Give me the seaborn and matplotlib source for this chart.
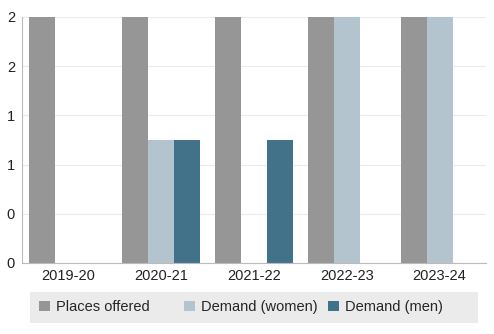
import matplotlib
matplotlib.use("Agg")
import matplotlib.pyplot as plt
import seaborn as sns
import pandas as pd
from matplotlib.patches import Patch, Rectangle
from matplotlib.ticker import FuncFormatter

years = ["2019-20", "2020-21", "2021-22", "2022-23", "2023-24"]
places_offered = [2, 2, 2, 2, 2]
demand_women = [0, 1, 0, 2, 2]
demand_men = [0, 1, 1, 0, 0]
series_names = ["Places offered", "Demand (women)", "Demand (men)"]
colors = ["#969696", "#b4c4ce", "#41728a"]

rows = []
for name, vals in zip(series_names, [places_offered, demand_women, demand_men]):
    for y, v in zip(years, vals):
        rows.append({"year": y, "series": name, "value": v})
df = pd.DataFrame(rows)

sns.set_style("white")
plt.rcParams["font.family"] = ["Liberation Sans", "DejaVu Sans"]

fig = plt.figure(figsize=(4.94, 3.34), dpi=100)
ax = fig.add_axes([22/494, 1-263/334, (486-22)/494, (263-17)/334])

sns.barplot(data=df, x="year", y="value", hue="series", palette=colors,
            hue_order=series_names, order=years, width=0.84, saturation=1,
            ax=ax, legend=False, errorbar=None, linewidth=0, edgecolor="none")

ax.set_xlim(-0.5, 4.5)
ax.set_ylim(0, 2)
ax.set_yticks([0, 0.4, 0.8, 1.2, 1.6, 2.0])
ax.yaxis.set_major_formatter(FuncFormatter(lambda v, p: f"{v:.0f}"))
ax.grid(axis="y", color="#ebebeb", linewidth=0.8)
ax.set_axisbelow(True)
for s in ["top", "right"]:
    ax.spines[s].set_visible(False)
for s in ["left", "bottom"]:
    ax.spines[s].set_color("#bbbbbb")
    ax.spines[s].set_linewidth(0.8)
ax.tick_params(axis="both", length=0, labelsize=10.5, colors="#222222")
ax.tick_params(axis="y", pad=5)
ax.tick_params(axis="x", pad=4)
ax.set_xlabel("")
ax.set_ylabel("")

# legend background
fig.patches.append(Rectangle((30/494, 1-323/334), 448/494, 31/334,
                             transform=fig.transFigure, facecolor="#ebebeb",
                             edgecolor="none", zorder=0))
starts = [39, 184, 328]
for name, col, x0 in zip(series_names, colors, starts):
    fig.legend(handles=[Patch(facecolor=col, edgecolor="none")], labels=[name],
               loc="center left", bbox_to_anchor=(x0/494, 1-307/334),
               frameon=False, handlelength=0.72, handleheight=0.72,
               handletextpad=0.45, borderpad=0, borderaxespad=0, fontsize=10.5)

fig.savefig("out.png", dpi=100)
